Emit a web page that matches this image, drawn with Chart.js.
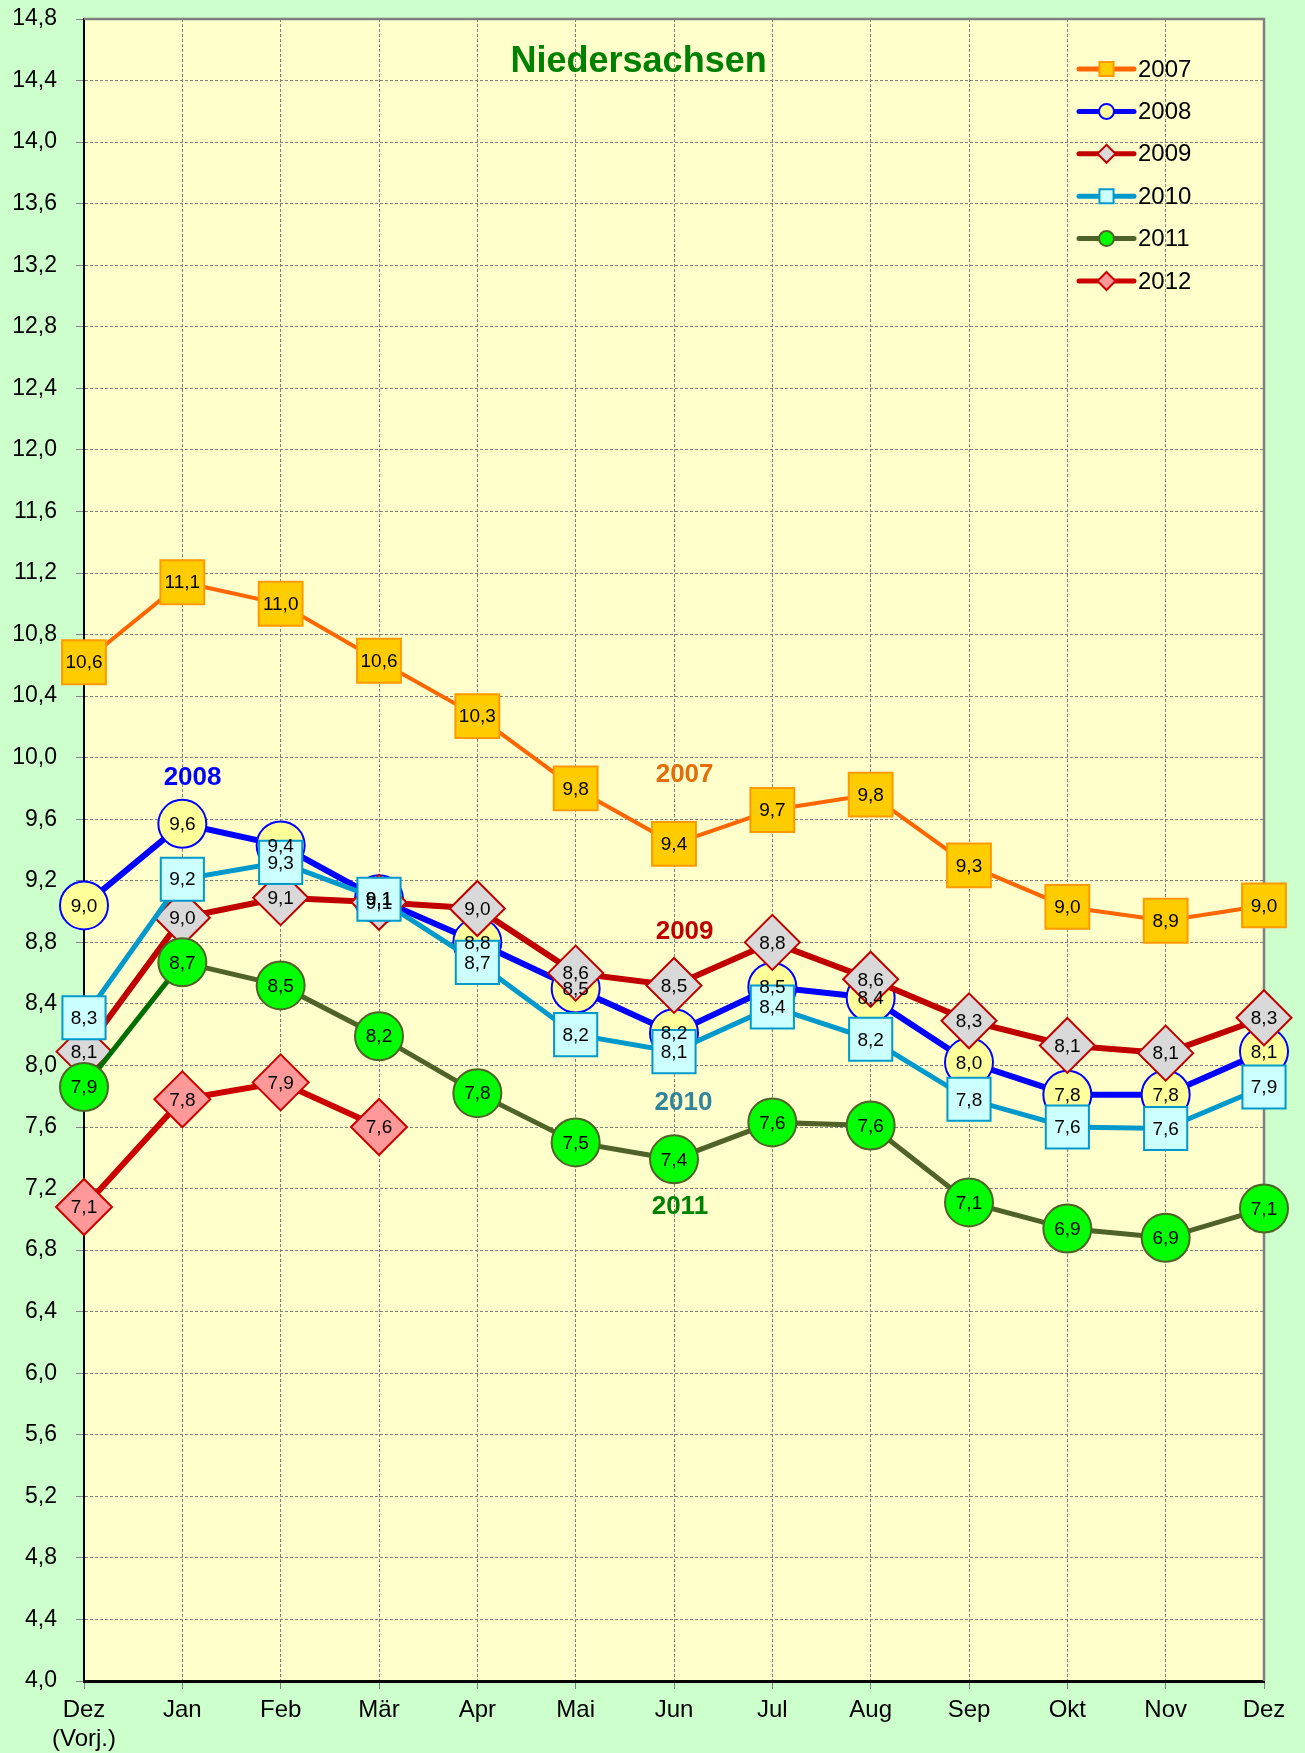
<!DOCTYPE html>
<html>
<head>
<meta charset="utf-8">
<script src="https://cdn.jsdelivr.net/npm/chart.js@4.4.1/dist/chart.umd.min.js"></script>
<style>
  html, body { margin: 0; padding: 0; background: #ccffcc; }
  canvas { display: block; }
</style>
</head>
<body>
<canvas id="chart" width="1305" height="1753"></canvas>
<script>
// Monatswerte (Niedersachsen)
const months = [["Dez", "(Vorj.)"], "Jan", "Feb", "Mär", "Apr", "Mai", "Jun", "Jul", "Aug", "Sep", "Okt", "Nov", "Dez"];
const years = ["2007", "2008", "2009", "2010", "2011", "2012"];

const v2007 = [10.62, 11.14, 11.0, 10.63, 10.27, 9.8, 9.44, 9.66, 9.76, 9.3, 9.03, 8.94, 9.04];
const v2008 = [9.04, 9.57, 9.43, 9.08, 8.8, 8.5, 8.21, 8.51, 8.44, 8.02, 7.81, 7.81, 8.09];
const v2009 = [8.09, 8.96, 9.09, 9.06, 9.02, 8.6, 8.52, 8.8, 8.56, 8.29, 8.13, 8.08, 8.31];
const v2010 = [8.31, 9.21, 9.32, 9.08, 8.67, 8.2, 8.09, 8.38, 8.17, 7.78, 7.6, 7.59, 7.86];
const v2011 = [7.86, 8.67, 8.52, 8.19, 7.82, 7.5, 7.39, 7.63, 7.61, 7.11, 6.94, 6.88, 7.07];
const v2012 = [7.08, 7.78, 7.89, 7.6, null, null, null, null, null, null, null, null, null];

const yMin = 4.0;
const yMax = 14.8;
const yStep = 0.4;

const FONT = '"Liberation Sans", Arial, sans-serif';
const fmt = (v) => v.toFixed(1).replace(".", ",");

const styles = [
  { line: "#ff6600", fill: "#ffcc00", edge: "#ff9900", shape: "rect", r: 31, w: 4 },
  { line: "#0000ff", fill: "#ffff99", edge: "#0000ff", shape: "circle", r: 24, w: 6 },
  { line: "#c00000", fill: "#d9d9d9", edge: "#c00000", shape: "rectRot", r: 27.5, w: 6 },
  { line: "#0099cc", fill: "#ccffff", edge: "#0099cc", shape: "rect", r: 30.5, w: 5 },
  { line: "#4f6228", fill: "#00ff00", edge: "#4f6228", shape: "circle", r: 24, w: 5 },
  { line: "#cc0000", fill: "#ff9999", edge: "#cc0000", shape: "rectRot", r: 28, w: 6 }
];
const legendRadius = { rect: 10, circle: 7.5, rectRot: 9 };

const series = [v2007, v2008, v2009, v2010, v2011, v2012];

const datasets = series.map((data, i) => {
  const s = styles[i];
  const ds = {
    label: years[i],
    data,
    borderColor: s.line,
    borderWidth: s.w,
    backgroundColor: s.fill,
    pointStyle: s.shape,
    pointRadius: s.r,
    pointHoverRadius: s.r,
    pointBackgroundColor: s.fill,
    pointBorderColor: s.edge,
    pointBorderWidth: 2,
    tension: 0,
    spanGaps: false,
    clip: false,
    order: series.length - i
  };
  if (i === 4) {
    ds.segment = { borderColor: (c) => (c.p0DataIndex === 0 ? "#006f00" : undefined) };
  }
  return ds;
});

// annotations: text, colour, position as fraction of plot area
const notes = [
  { text: "2008", color: "#0000ff", fx: 0.092, fy: 0.4566 },
  { text: "2007", color: "#e46c0a", fx: 0.509, fy: 0.4548 },
  { text: "2009", color: "#c00000", fx: 0.509, fy: 0.5493 },
  { text: "2010", color: "#31849b", fx: 0.508, fy: 0.6522 },
  { text: "2011", color: "#008000", fx: 0.505, fy: 0.7148 }
];

function drawMarker(ctx, shape, x, y, r) {
  ctx.beginPath();
  if (shape === "circle") {
    ctx.arc(x, y, r, 0, Math.PI * 2);
  } else if (shape === "rect") {
    const h = r * Math.SQRT1_2;
    ctx.rect(x - h, y - h, 2 * h, 2 * h);
  } else {
    ctx.moveTo(x, y - r);
    ctx.lineTo(x + r, y);
    ctx.lineTo(x, y + r);
    ctx.lineTo(x - r, y);
    ctx.closePath();
  }
  ctx.fill();
  ctx.stroke();
}

const decor = {
  id: "decor",
  beforeDraw(chart) {
    const { ctx, chartArea: a } = chart;
    ctx.save();
    ctx.fillStyle = "#ccffcc";
    ctx.fillRect(0, 0, chart.width, chart.height);
    ctx.fillStyle = "#ffffcc";
    ctx.fillRect(a.left, a.top, a.right - a.left, a.bottom - a.top);
    ctx.restore();
  },
  beforeDatasetsDraw(chart) {
    const { ctx, chartArea: a } = chart;
    ctx.save();
    ctx.strokeStyle = "#808080";
    ctx.lineWidth = 2.5;
    ctx.beginPath();
    ctx.moveTo(a.left, a.top);
    ctx.lineTo(a.right, a.top);
    ctx.lineTo(a.right, a.bottom);
    ctx.stroke();
    ctx.restore();
  },
  afterDatasetsDraw(chart) {
    const { ctx } = chart;
    ctx.save();
    ctx.font = "19px " + FONT;
    ctx.fillStyle = "#000";
    ctx.textAlign = "center";
    ctx.textBaseline = "middle";
    chart.data.datasets.forEach((ds, i) => {
      const meta = chart.getDatasetMeta(i);
      meta.data.forEach((pt, j) => {
        const v = ds.data[j];
        if (v === null || v === undefined) return;
        ctx.fillText(fmt(v), pt.x, pt.y + 1);
      });
    });
    ctx.restore();
  },
  afterDraw(chart) {
    const { ctx, chartArea: a } = chart;
    const w = a.right - a.left;
    const h = a.bottom - a.top;
    ctx.save();
    ctx.textAlign = "center";
    ctx.textBaseline = "middle";
    ctx.font = "bold 36px " + FONT;
    ctx.fillStyle = "#008000";
    ctx.fillText("Niedersachsen", a.left + w * 0.47, a.top + 43);

    ctx.font = "bold 26px " + FONT;
    notes.forEach((n) => {
      ctx.fillStyle = n.color;
      ctx.fillText(n.text, a.left + w * n.fx, a.top + h * n.fy);
    });

    // legend
    const lx0 = a.left + 995;
    const lx1 = a.left + 1050;
    ctx.textAlign = "left";
    ctx.font = "24px " + FONT;
    chart.data.datasets.forEach((ds, i) => {
      const s = styles[i];
      const y = a.top + 50 + i * 42.4;
      ctx.strokeStyle = s.line;
      ctx.lineWidth = 5;
      ctx.lineCap = "round";
      ctx.beginPath();
      ctx.moveTo(lx0, y);
      ctx.lineTo(lx1, y);
      ctx.stroke();
      ctx.lineCap = "butt";
      ctx.fillStyle = s.fill;
      ctx.strokeStyle = s.edge;
      ctx.lineWidth = 2;
      drawMarker(ctx, s.shape, (lx0 + lx1) / 2, y, legendRadius[s.shape]);
      ctx.fillStyle = "#000";
      ctx.fillText(ds.label, lx1 + 4, y + 1);
    });
    ctx.restore();
  }
};

new Chart(document.getElementById("chart"), {
  type: "line",
  data: { labels: months, datasets },
  options: {
    responsive: false,
    animation: false,
    events: [],
    layout: { autoPadding: false, padding: { top: 19, right: 41, left: 0, bottom: 0 } },
    plugins: {
      legend: { display: false },
      tooltip: { enabled: false },
      title: { display: false }
    },
    scales: {
      x: {
        type: "category",
        offset: false,
        afterFit: (s) => { s.height = 72; },
        grid: { color: "#808080", lineWidth: 1, tickLength: 8, tickColor: "#808080" },
        border: { color: "#000", width: 3, dash: [3, 2] },
        ticks: {
          color: "#000",
          font: { family: FONT, size: 24, lineHeight: 1.2 },
          padding: 7,
          maxRotation: 0,
          autoSkip: false
        }
      },
      y: {
        min: yMin,
        max: yMax,
        afterFit: (s) => { s.width = 84; s.paddingTop = 0; s.paddingBottom = 0; },
        grid: { color: "#808080", lineWidth: 1, tickLength: 8, tickColor: "#808080" },
        border: { color: "#000", width: 2, dash: [3, 2] },
        ticks: {
          stepSize: yStep,
          color: "#000",
          font: { family: FONT, size: 23 },
          padding: 19,
          callback: (v) => fmt(v)
        }
      }
    }
  },
  plugins: [decor]
});
</script>
</body>
</html>
